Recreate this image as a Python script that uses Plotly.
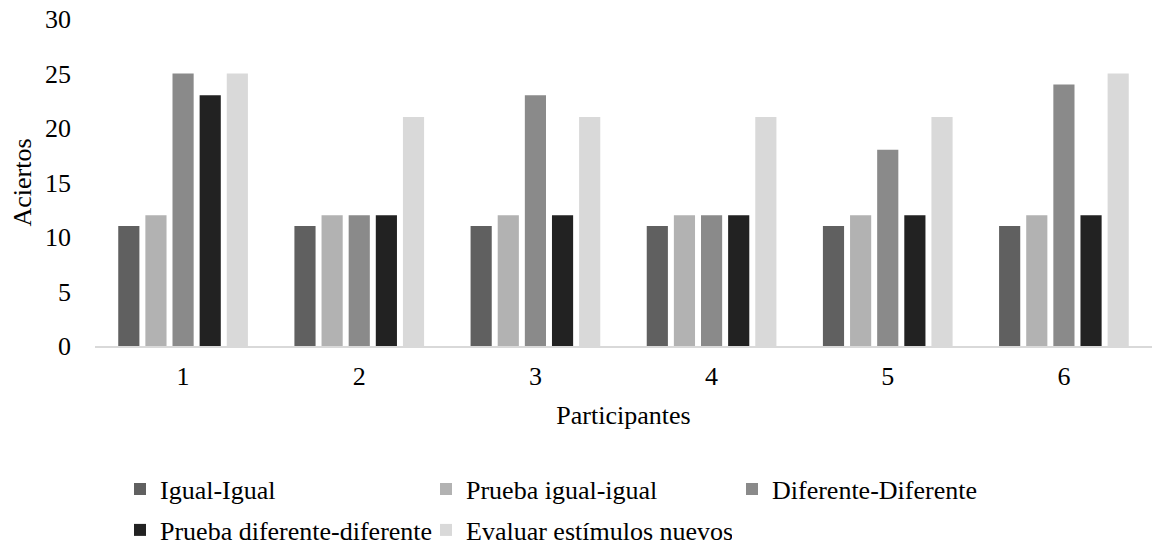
import plotly.graph_objects as go

participantes = ["1", "2", "3", "4", "5", "6"]
series_names = ["Igual-Igual", "Prueba igual-igual", "Diferente-Diferente",
                "Prueba diferente-diferente", "Evaluar estímulos nuevos"]
igual_igual = [11, 11, 11, 11, 11, 11]
prueba_igual = [12, 12, 12, 12, 12, 12]
diferente = [25, 12, 23, 12, 18, 24]
prueba_diferente = [23, 12, 12, 12, 12, 12]
evaluar = [25, 21, 21, 21, 21, 25]
colors = ["#606060", "#b2b2b2", "#8a8a8a", "#222222", "#d9d9d9"]
legend_ids = ["legend", "legend", "legend", "legend2", "legend2"]

FONT = "Liberation Serif"
FS = 26

fig = go.Figure()
for name, vals, col, lg in zip(series_names,
                               [igual_igual, prueba_igual, diferente, prueba_diferente, evaluar],
                               colors, legend_ids):
    fig.add_trace(go.Bar(x=participantes, y=vals, name=name, legend=lg,
                         marker=dict(color=col, line=dict(width=0))))

legend_common = dict(orientation="h", xref="container", yref="container",
                     x=120 / 1168, xanchor="left", yanchor="middle",
                     entrywidth=261, entrywidthmode="pixels", traceorder="normal",
                     font=dict(family=FONT, size=FS, color="#000000"), itemwidth=30,
                     bgcolor="rgba(0,0,0,0)")

fig.update_layout(
    width=1168, height=546,
    paper_bgcolor="white", plot_bgcolor="white",
    font=dict(family=FONT, size=FS, color="#000000"),
    margin=dict(l=95, r=16, t=19, b=200, autoexpand=False),
    barmode="group", bargap=0.23, bargroupgap=0.22,
    showlegend=True,
    legend=dict(legend_common, y=1 - 489 / 546),
    legend2=dict(legend_common, y=1 - 530 / 546),
)
fig.update_xaxes(showgrid=False, showline=True, linecolor="#d9d9d9", linewidth=1.5,
                 ticks="", ticklabelstandoff=6, automargin=False,
                 title=dict(text="Participantes", standoff=16, font=dict(family=FONT, size=FS)),
                 tickfont=dict(family=FONT, size=FS))
fig.update_yaxes(range=[0, 30], dtick=5, showgrid=False, zeroline=False, showline=False,
                 ticks="", ticklabelstandoff=23, automargin=False,
                 title=dict(text="Aciertos", standoff=5, font=dict(family=FONT, size=FS)),
                 tickfont=dict(family=FONT, size=FS))

fig.write_html("out.html", config={"displayModeBar": False},
               post_script="document.body.style.margin='0px';")
